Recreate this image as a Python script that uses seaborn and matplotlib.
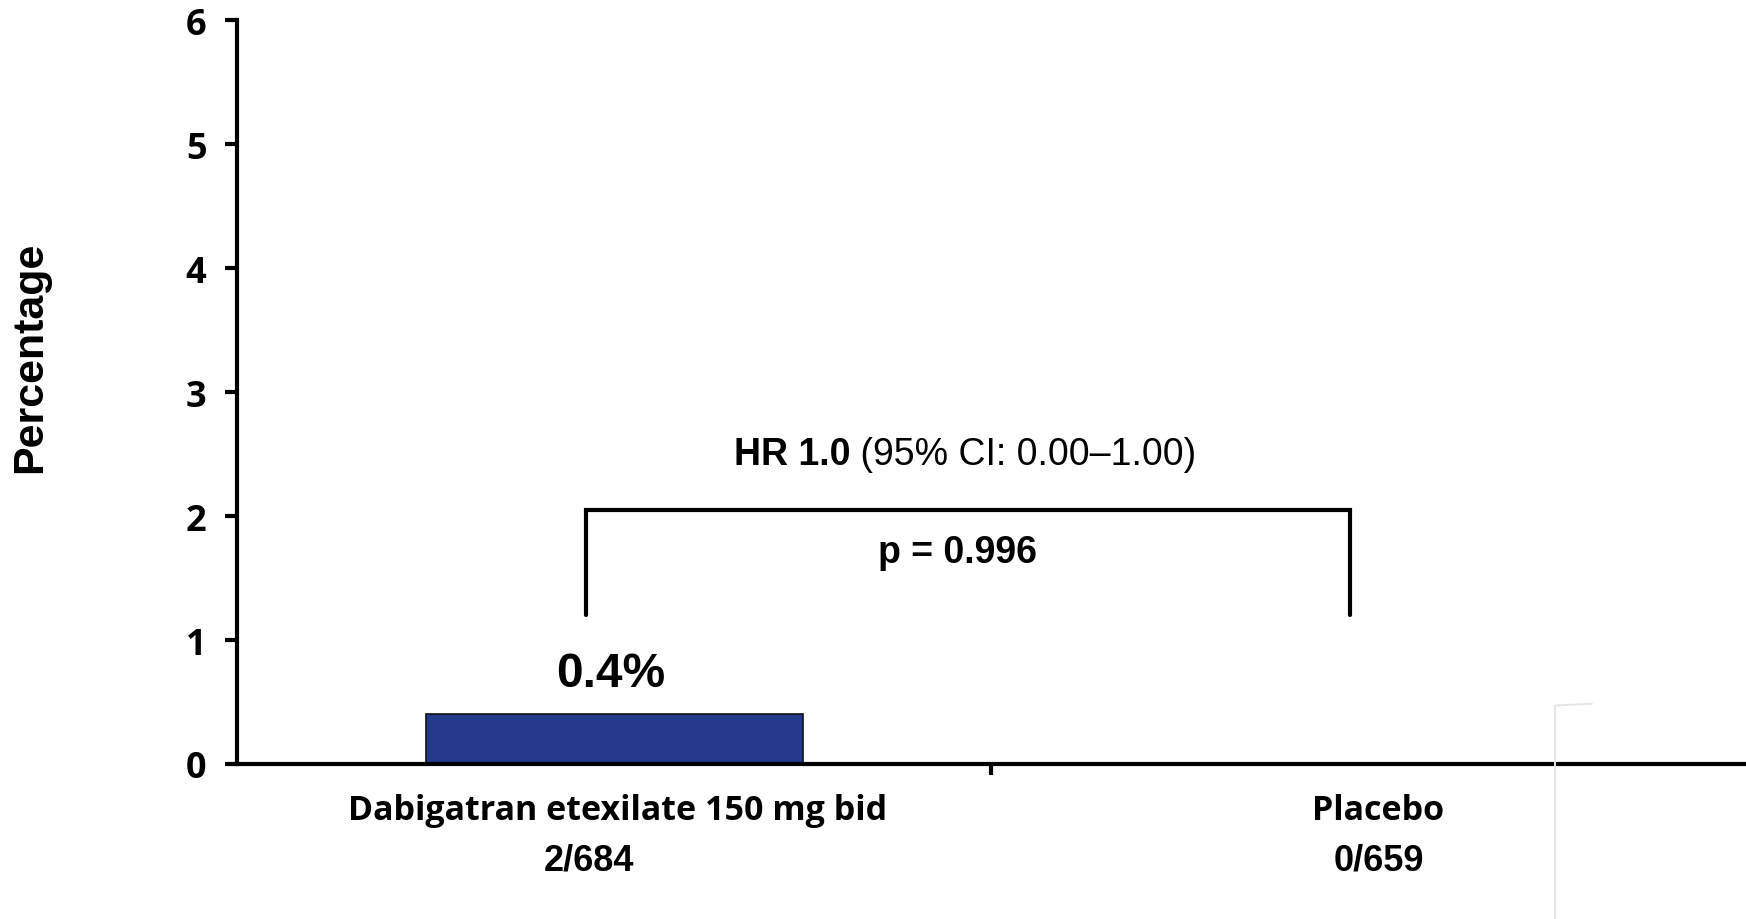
import matplotlib
matplotlib.use("Agg")
import matplotlib.pyplot as plt
import seaborn as sns
import pandas as pd
from matplotlib.lines import Line2D

# Data
groups = ["Dabigatran etexilate 150 mg bid", "Placebo"]
counts = ["2/684", "0/659"]
percent = [0.4, 0.0]
y_ticks = [0, 1, 2, 3, 4, 5, 6]
hr_bold = "HR 1.0"
hr_rest = " (95% CI: 0.00\u20131.00)"
p_text = "p = 0.996"

df = pd.DataFrame({"group": groups, "percent": percent})

sns.set_theme(style="white")
plt.rcParams["font.family"] = ["Liberation Sans", "DejaVu Sans"]
plt.rcParams["text.color"] = "black"
plt.rcParams["axes.labelcolor"] = "black"
plt.rcParams["xtick.color"] = "black"
plt.rcParams["ytick.color"] = "black"

fig = plt.figure(figsize=(17.46, 9.2), dpi=100)
ax = fig.add_axes([0.1357, 0.1685, 0.8643, 0.8085])

sns.barplot(data=df, x="group", y="percent", color="#24398B", width=0.5,
            edgecolor="#111111", linewidth=1.2, saturation=1, ax=ax)

ax.set_xlim(-0.5, 1.5)
ax.set_ylim(0, 6)
ax.set_xlabel("")
ax.set_ylabel("Percentage", fontsize=31, fontweight="bold",
              family=["Liberation Sans"], va="bottom")
ax.yaxis.set_label_coords(-0.124, 0.548)

# Axes styling
sns.despine(ax=ax)
for side in ("left", "bottom"):
    ax.spines[side].set_linewidth(3.0)
    ax.spines[side].set_color("black")

ax.set_yticks(y_ticks)
ax.set_yticklabels([str(t) for t in y_ticks], fontsize=26, fontweight="bold",
                   family=["Open Sans"])
ax.tick_params(axis="y", direction="out", length=9, width=3.0, pad=13,
               left=True, colors="black")

ax.set_xticks([0, 1])
ax.set_xticklabels(["", ""])
ax.tick_params(axis="x", length=0)
ax.set_xticks([0.5], minor=True)
ax.tick_params(axis="x", which="minor", direction="out", length=8,
               width=3.0, bottom=True, colors="black")

# Category labels with counts
xt = ax.get_xaxis_transform()
name_dx = [0.005, 0.013]
count_dx = [-0.034, 0.013]
for i, (g, c) in enumerate(zip(groups, counts)):
    ax.text(i + name_dx[i], -0.062, g, transform=xt, ha="center",
            va="center", fontsize=24.5, fontweight="bold",
            family=["Open Sans"])
    ax.text(i + count_dx[i], -0.129, c, transform=xt, ha="center",
            va="center", fontsize=26, fontweight="bold",
            family=["Liberation Sans"])

# Value label above the active bar
ax.text(-0.005, percent[0] + 0.33, f"{percent[0]:.1f}%", ha="center",
        va="center", fontsize=34.5, fontweight="bold",
        family=["Liberation Sans"])

# Comparison bracket
bx0, bx1 = -0.037, 0.975
by_top, by_low = 2.05, 1.2
ax.plot([bx0, bx0, bx1, bx1], [by_low, by_top, by_top, by_low],
        color="black", lw=3.0, solid_joinstyle="miter", clip_on=False)

# HR annotation: bold lead followed by regular text
t1 = ax.text(0.0, 2.5, hr_bold, ha="left", va="center", fontsize=27,
             fontweight="bold", family=["Liberation Sans"])
t2 = ax.text(0.0, 2.5, hr_rest, ha="left", va="center", fontsize=27,
             family=["Liberation Sans"])
fig.canvas.draw()
r = fig.canvas.get_renderer()
w1 = t1.get_window_extent(r).width
w2 = t2.get_window_extent(r).width
cx = ax.transData.transform((0.465, 2.5))[0]
start = cx - (w1 + w2) / 2
inv = ax.transData.inverted()
t1.set_x(inv.transform((start, 0))[0])
t2.set_x(inv.transform((start + w1, 0))[0])

ax.text(0.455, 1.71, p_text, ha="center", va="center", fontsize=27,
        fontweight="bold", family=["Liberation Sans"])

# Faint guide stroke at lower right
fig.add_artist(Line2D([0.8906, 0.8906, 0.9118], [0.0, 0.232, 0.234],
                      transform=fig.transFigure, color="#e6e6e6", lw=1.4))

fig.savefig("out.png", dpi=100, facecolor="white")
